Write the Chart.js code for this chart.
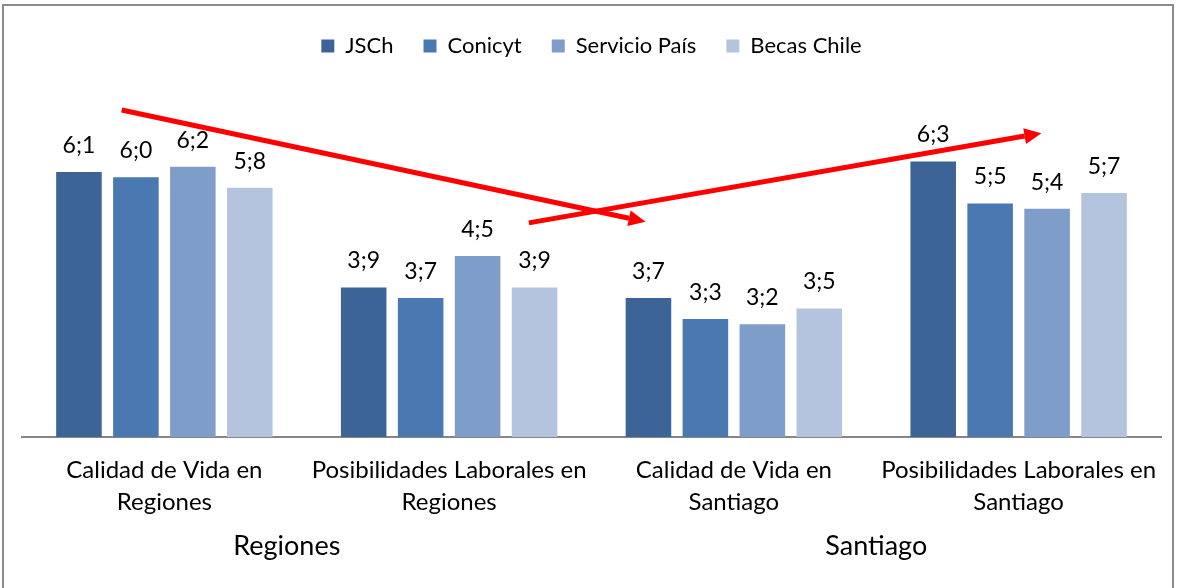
<!DOCTYPE html>
<html lang="es">
<head>
<meta charset="utf-8">
<title>Calidad de vida y posibilidades laborales</title>
<script src="https://cdn.jsdelivr.net/npm/chart.js@4.4.1/dist/chart.umd.min.js"></script>
<style>
  html, body { margin: 0; padding: 0; background: #fff; overflow: hidden; }
  #marco {
    position: absolute; left: 2px; top: 4px; width: 1172px; height: 600px;
    border: 2px solid #8c8c8c; box-sizing: border-box;
  }
  #wrap { position: absolute; left: 0; top: 0; width: 1177px; height: 588px; }
</style>
</head>
<body>
<div id="marco"></div>
<div id="wrap"><canvas id="grafico"></canvas></div>
<script>
/* ---------- Datos ---------- */
const CATEGORIAS = [
  ["Calidad de Vida en", "Regiones"],
  ["Posibilidades Laborales en", "Regiones"],
  ["Calidad de Vida en", "Santiago"],
  ["Posibilidades Laborales en", "Santiago"],
];
const SERIES = ["JSCh", "Conicyt", "Servicio País", "Becas Chile"];
const JSCH = [6.1, 3.9, 3.7, 6.3];
const CONICYT = [6.0, 3.7, 3.3, 5.5];
const SERVICIO_PAIS = [6.2, 4.5, 3.2, 5.4];
const BECAS_CHILE = [5.8, 3.9, 3.5, 5.7];

// Etiquetas de grupo (posición en índice de categoría)
const GRUPOS = ["Regiones", "Santiago"];
const GRUPOS_POS = [0.43, 2.5];

// Flechas rojas (coordenadas en unidades del gráfico: índice de categoría, valor)
const FLECHA_DESDE = [[-0.15, 7.28], [1.28, 5.13]];
const FLECHA_HASTA = [[1.69, 5.15], [3.08, 6.84]];

const COR = {
  jsch: "#3c6496",
  conicyt: "#4a79b1",
  servicio: "#7f9dc9",
  becas: "#b4c4df",
  eje: "#868686",
  texto: "#000000",
  flecha: "#ff0000",
};
const FUENTE = "Lato, 'Open Sans', sans-serif";

/* ---------- Plugins ---------- */
// Valores sobre las barras con ";" como separador decimal
const etiquetasValor = {
  id: "etiquetasValor",
  afterDatasetsDraw(chart) {
    const ctx = chart.ctx;
    ctx.save();
    ctx.font = `23px ${FUENTE}`;
    ctx.fillStyle = COR.texto;
    ctx.textAlign = "center";
    ctx.textBaseline = "alphabetic";
    chart.data.datasets.forEach((ds, i) => {
      chart.getDatasetMeta(i).data.forEach((bar, j) => {
        ctx.fillText(ds.data[j].toFixed(1).replace(".", ";"), bar.x, bar.y - 19);
      });
    });
    ctx.restore();
  },
};

// Flechas y etiquetas de grupo
const anotaciones = {
  id: "anotaciones",
  afterDraw(chart) {
    const { ctx, scales } = chart;
    const px = (p) => [scales.x.getPixelForValue(p[0]), scales.y.getPixelForValue(p[1])];
    ctx.save();
    ctx.strokeStyle = COR.flecha;
    ctx.fillStyle = COR.flecha;
    ctx.lineWidth = 5;
    FLECHA_DESDE.forEach((d, i) => {
      const [x1, y1] = px(d);
      const [x2, y2] = px(FLECHA_HASTA[i]);
      const ang = Math.atan2(y2 - y1, x2 - x1);
      const largo = 17, ancho = 8;
      const bx = x2 - largo * Math.cos(ang), by = y2 - largo * Math.sin(ang);
      ctx.beginPath();
      ctx.moveTo(x1, y1);
      ctx.lineTo(bx, by);
      ctx.stroke();
      ctx.beginPath();
      ctx.moveTo(x2, y2);
      ctx.lineTo(bx + ancho * Math.sin(ang), by - ancho * Math.cos(ang));
      ctx.lineTo(bx - ancho * Math.sin(ang), by + ancho * Math.cos(ang));
      ctx.closePath();
      ctx.fill();
    });

    ctx.fillStyle = COR.texto;
    ctx.font = `27px ${FUENTE}`;
    ctx.textAlign = "center";
    ctx.textBaseline = "alphabetic";
    GRUPOS.forEach((g, i) => {
      ctx.fillText(g, scales.x.getPixelForValue(GRUPOS_POS[i]), 555);
    });
    ctx.restore();
  },
};

/* ---------- Gráfico ---------- */
function init() {
  Chart.defaults.font.family = FUENTE;
  Chart.defaults.color = COR.texto;

  const colores = [COR.jsch, COR.conicyt, COR.servicio, COR.becas];
  const valores = [JSCH, CONICYT, SERVICIO_PAIS, BECAS_CHILE];

  new Chart(document.getElementById("grafico"), {
    type: "bar",
    data: {
      labels: CATEGORIAS,
      datasets: SERIES.map((s, i) => ({
        label: s,
        data: valores[i],
        backgroundColor: colores[i],
        borderWidth: 0,
        barPercentage: 0.8,
        categoryPercentage: 0.8,
      })),
    },
    options: {
      responsive: true,
      maintainAspectRatio: false,
      animation: false,
      layout: { padding: { left: 22, right: 16, top: 5, bottom: 53 } },
      plugins: {
        legend: {
          position: "top",
          labels: { boxWidth: 13, boxHeight: 13, padding: 30, font: { size: 22 }, color: COR.texto },
        },
        tooltip: { enabled: false },
      },
      scales: {
        y: { display: false, min: 1.05, max: 8.1 },
        x: {
          grid: { display: false, drawTicks: false },
          border: { color: COR.eje, width: 2 },
          ticks: { font: { size: 24, lineHeight: 1.333 }, padding: 17, color: COR.texto, maxRotation: 0 },
        },
      },
    },
    plugins: [etiquetasValor, anotaciones],
  });
}

document.addEventListener("DOMContentLoaded", init);
</script>
</body>
</html>
